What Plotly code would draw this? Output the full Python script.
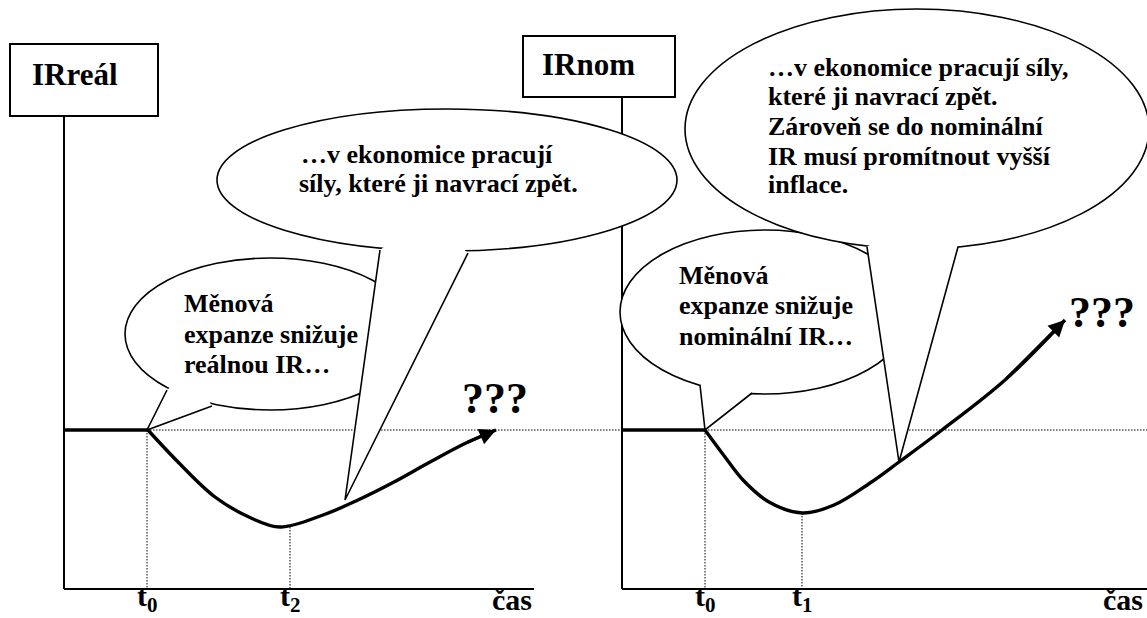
import plotly.graph_objects as go

# ---------------- data (diagram coordinates, y grows downward) ----------------
base_level = 430          # starting interest-rate level
axis_level = 589          # time axis

# left panel (real IR)
left_t0 = 147
left_t2 = 290
left_curve_x = [147, 179, 215, 251, 280, 323, 358, 394, 430, 466, 496]
left_curve_y = [429, 463, 497, 518, 527, 515, 500, 482, 462, 443, 430]
left_min_y = 527

# right panel (nominal IR)
right_t0 = 705
right_t1 = 802
right_curve_x = [705, 725, 743, 769, 802, 834, 870, 899, 942, 1005, 1065]
right_curve_y = [430, 457, 480, 502, 513, 505, 483, 462, 430, 380, 320]
right_min_y = 513

left_tick_labels = ["t<sub>0</sub>", "t<sub>2</sub>", "čas"]
right_tick_labels = ["t<sub>0</sub>", "t<sub>1</sub>", "čas"]
left_title = "IRreál"
right_title = "IRnom"
left_small_text = ["Měnová", "expanze snižuje", "reálnou IR…"]
left_big_text = ["…v ekonomice pracují", "síly, které ji navrací zpět."]
right_small_text = ["Měnová", "expanze snižuje", "nominální IR…"]
right_big_text = ["…v ekonomice pracují síly,", "které ji navrací zpět.",
                  "Zároveň se do nominální", "IR musí promítnout vyšší", "inflace."]

# ---------------- figure ----------------
W, H = 1147, 618
FONT = "Liberation Serif"
fig = go.Figure()

def line(xs, ys, width=2, dash=None):
    fig.add_trace(go.Scatter(x=xs, y=ys, mode="lines", hoverinfo="skip",
                             line=dict(color="black", width=width, dash=dash)))

DOT = "1.5px,1.5px"
# axes
line([64, 64], [116, axis_level])
line([64, 534], [axis_level, axis_level])
line([622, 622], [97, axis_level])
line([622, W], [axis_level, axis_level])
# dotted guides
line([left_t0, W], [base_level, base_level], 1, DOT)
line([left_t0, left_t0], [base_level, axis_level], 1, DOT)
line([left_t2, left_t2], [left_min_y, axis_level], 1, DOT)
line([right_t0, right_t0], [base_level, axis_level], 1, DOT)
line([right_t1, right_t1], [right_min_y, axis_level], 1, DOT)
# thick initial levels
line([64, left_t0], [base_level, base_level], 3.5)
line([622, right_t0], [base_level, base_level], 3.5)
# curves
fig.add_trace(go.Scatter(x=left_curve_x, y=left_curve_y, mode="lines", hoverinfo="skip",
                         line=dict(color="black", width=3.4, shape="spline", smoothing=1)))
fig.add_trace(go.Scatter(x=right_curve_x, y=right_curve_y, mode="lines", hoverinfo="skip",
                         line=dict(color="black", width=3.4, shape="spline", smoothing=1)))

shapes = []

def box(x0, y0, x1, y1):
    shapes.append(dict(type="rect", xref="x", yref="y", x0=x0, y0=y0, x1=x1, y1=y1,
                       fillcolor="white", line=dict(color="black", width=2), layer="above"))

def bubble(cx, cy, rx, ry, a1, tip, a2, inner):
    shapes.append(dict(type="circle", xref="x", yref="y", x0=cx - rx, x1=cx + rx,
                       y0=cy - ry, y1=cy + ry, fillcolor="white",
                       line=dict(color="black", width=1.6), layer="above"))
    p = "M{},{} L{},{} L{},{} L{},{} Z".format(a1[0], a1[1], tip[0], tip[1], a2[0], a2[1],
                                                 inner[0], inner[1])
    shapes.append(dict(type="path", xref="x", yref="y", path=p, fillcolor="white",
                       line=dict(width=0, color="rgba(0,0,0,0)"), layer="above"))
    p2 = "M{},{} L{},{} L{},{}".format(a1[0], a1[1], tip[0], tip[1], a2[0], a2[1])
    shapes.append(dict(type="path", xref="x", yref="y", path=p2,
                       fillcolor="rgba(0,0,0,0)",
                       line=dict(color="black", width=1.6), layer="above"))

box(10, 44, 158, 116)
box(523, 36, 675, 97)
bubble(270, 334, 145, 76, (167, 390), (left_t0, base_level), (212, 406), (190, 370))
bubble(765, 312, 145, 82, (700, 385), (right_t0, base_level), (752, 393), (728, 370))
bubble(447, 180, 230, 71, (380, 250), (345, 500), (468, 253), (425, 215))
bubble(917, 129, 232, 120, (867, 247), (899, 462), (958, 247), (912, 215))

annotations = []

def text(t, x, baseline, size, anchor="left"):
    annotations.append(dict(text="<b>" + t + "</b>", x=x, y=baseline - 0.33 * size,
                            xref="x", yref="y", xanchor=anchor, yanchor="middle",
                            showarrow=False, font=dict(family=FONT, size=size, color="black")))

text(left_title, 75, 85, 31, "center")
text(right_title, 588, 75, 31, "center")
for i, t in enumerate(left_small_text):
    text(t, 182, [312, 343, 373][i], 26)
for i, t in enumerate(left_big_text):
    text(t, [299, 297][i], [163, 192][i], 26)
for i, t in enumerate(right_small_text):
    text(t, 677, [284, 314, 345][i], 26)
for i, t in enumerate(right_big_text):
    text(t, 766, [76, 105, 135, 165, 193][i], 26)
text("???", 460, 413, 44)
text("???", 1067, 327, 44)

# tick labels
text(left_tick_labels[0], left_t0, 608, 30, "center")
text(left_tick_labels[1], left_t2, 608, 30, "center")
text(left_tick_labels[2], 534, 609, 30, "right")
text(right_tick_labels[0], right_t0, 608, 30, "center")
text(right_tick_labels[1], right_t1, 608, 30, "center")
text(right_tick_labels[2], 1145, 609, 30, "right")

# arrow heads
for cx, cy in [(left_curve_x, left_curve_y), (right_curve_x, right_curve_y)]:
    annotations.append(dict(x=cx[-1], y=cy[-1], ax=cx[-2], ay=cy[-2], xref="x", yref="y",
                            axref="x", ayref="y", showarrow=True, arrowhead=2,
                            arrowsize=1.1, arrowwidth=3, arrowcolor="black", text=""))

fig.update_layout(
    width=W, height=H, margin=dict(l=0, r=0, t=0, b=0),
    paper_bgcolor="white", plot_bgcolor="white", showlegend=False,
    xaxis=dict(range=[0, W], visible=False, fixedrange=True),
    yaxis=dict(range=[H, 0], visible=False, fixedrange=True),
    shapes=shapes, annotations=annotations,
)

fig.write_html("out.html", config={"displayModeBar": False},
               post_script="document.body.style.margin='0';document.body.style.overflow='hidden';")
